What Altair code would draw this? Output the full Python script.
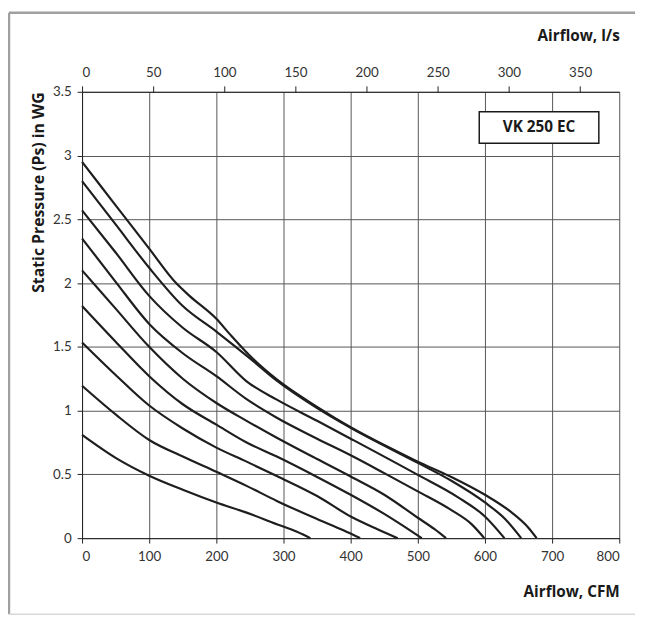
import altair as alt
import pandas as pd

# ---- data (CFM vs static pressure, in WG) ----
curve_names = ["c1", "c2", "c3", "c4", "c5", "c6", "c7", "c8", "c9"]
c1_cfm = [0, 50, 100, 140, 160, 200, 220, 250, 290, 350, 400, 450, 500, 550, 600, 640, 665, 677]
c1_ps = [2.95, 2.61, 2.27, 2.00, 1.90, 1.72, 1.60, 1.43, 1.245, 1.03, 0.87, 0.73, 0.60, 0.48, 0.34, 0.20, 0.08, 0.0]
c2_cfm = [0, 50, 100, 150, 200, 250, 290, 350, 400, 500, 550, 600, 630, 654]
c2_ps = [2.80, 2.46, 2.12, 1.82, 1.62, 1.41, 1.235, 1.02, 0.865, 0.59, 0.45, 0.28, 0.15, 0.0]
c3_cfm = [0, 50, 100, 150, 200, 245, 290, 350, 400, 500, 560, 600, 629]
c3_ps = [2.57, 2.24, 1.90, 1.65, 1.46, 1.23, 1.086, 0.92, 0.78, 0.496, 0.32, 0.17, 0.0]
c4_cfm = [0, 50, 100, 150, 200, 245, 290, 350, 400, 450, 500, 550, 580, 599]
c4_ps = [2.35, 2.01, 1.68, 1.45, 1.27, 1.09, 0.944, 0.78, 0.65, 0.51, 0.367, 0.22, 0.11, 0.0]
c5_cfm = [0, 50, 100, 150, 200, 245, 290, 350, 400, 450, 500, 525, 542]
c5_ps = [2.10, 1.80, 1.50, 1.25, 1.06, 0.92, 0.787, 0.62, 0.483, 0.34, 0.16, 0.07, 0.0]
c6_cfm = [0, 50, 100, 150, 200, 245, 290, 350, 400, 450, 480, 506]
c6_ps = [1.82, 1.54, 1.27, 1.05, 0.89, 0.75, 0.64, 0.48, 0.34, 0.19, 0.09, 0.0]
c7_cfm = [0, 50, 100, 150, 200, 245, 290, 350, 400, 440, 470]
c7_ps = [1.535, 1.28, 1.04, 0.86, 0.71, 0.60, 0.487, 0.33, 0.17, 0.07, 0.0]
c8_cfm = [0, 50, 100, 150, 200, 245, 290, 350, 390, 414]
c8_ps = [1.195, 0.97, 0.77, 0.64, 0.52, 0.41, 0.292, 0.15, 0.06, 0.0]
c9_cfm = [0, 50, 100, 150, 200, 245, 290, 320, 340]
c9_ps = [0.81, 0.63, 0.49, 0.38, 0.28, 0.20, 0.109, 0.05, 0.0]

cfm_ticks = [0, 100, 200, 300, 400, 500, 600, 700, 800]
ls_ticks = [0, 50, 100, 150, 200, 250, 300, 350]
ps_ticks = [0, 0.5, 1, 1.5, 2, 2.5, 3, 3.5]
CFM_PER_LS = 2.11888

model_label = ["VK 250 EC"]
box_cfm = [591.5, 769.6]
box_ps = [3.097, 3.343]

all_cfm = [c1_cfm, c2_cfm, c3_cfm, c4_cfm, c5_cfm, c6_cfm, c7_cfm, c8_cfm, c9_cfm]
all_ps = [c1_ps, c2_ps, c3_ps, c4_ps, c5_ps, c6_ps, c7_ps, c8_ps, c9_ps]
rows = []
for name, xs, ys in zip(curve_names, all_cfm, all_ps):
    for i, (x, y) in enumerate(zip(xs, ys)):
        rows.append({"curve": name, "order": i, "cfm": x, "ps": y})
df = pd.DataFrame(rows)

box_df = pd.DataFrame({"cfm": [box_cfm[0]], "cfm2": [box_cfm[1]], "ps": [box_ps[0]], "ps2": [box_ps[1]],
                       "label": model_label, "cfmc": [(box_cfm[0] + box_cfm[1]) / 2],
                       "psc": [(box_ps[0] + box_ps[1]) / 2]})

FONT = "Lato"
TFONT = "Open Sans"
xscale = alt.Scale(domain=[0, 800], nice=False, zero=False)
yscale = alt.Scale(domain=[0, 3.5], nice=False)

x_axis = alt.Axis(values=cfm_ticks, title="Airflow, CFM", grid=True, gridColor="#555", gridWidth=1,
                  domainColor="#222", tickColor="#222", tickSize=5, labelPadding=7,
                  labelFont=FONT, labelFontSize=13.5, labelColor="#333",
                  titleFont=TFONT, titleFontSize=15.5, titleFontWeight="bold", titleColor="#1a1a1a",
                  titleX=544, titleY=54, titleAlign="right", titleBaseline="middle")
y_axis = alt.Axis(values=ps_ticks, title="Static Pressure (Ps) in  WG", grid=True, gridColor="#555",
                  gridWidth=1, domainColor="#222", tickColor="#222", tickSize=5, labelPadding=6,
                  labelExpr="datum.value + ''",
                  labelFont=FONT, labelFontSize=13.5, labelColor="#333",
                  titleFont=TFONT, titleFontSize=16, titleFontWeight="bold", titleColor="#1a1a1a",
                  titleX=-44, titleY=0, titleAngle=270, titleAlign="right", titleBaseline="middle")

X = lambda f: alt.X(f, scale=xscale, axis=x_axis)
Y = lambda f: alt.Y(f, scale=yscale, axis=y_axis)

lines = alt.Chart(df).mark_line(color="#1e1e1e", strokeWidth=2.2, interpolate="monotone").encode(
    x=X("cfm:Q"), y=Y("ps:Q"), detail="curve:N", order="order:Q",
)

box = alt.Chart(box_df).mark_rect(fill="white", stroke="#1a1a1a", strokeWidth=1.5).encode(
    x=X("cfm:Q"), x2="cfm2:Q", y=Y("ps:Q"), y2="ps2:Q")
box_text = alt.Chart(box_df).mark_text(font=TFONT, fontSize=15.5, fontWeight="bold", color="#1a1a1a").encode(
    x=X("cfmc:Q"), y=Y("psc:Q"), text="label:N")

frame_left = alt.Chart(box_df).mark_rule(color="#a0a0a0", strokeWidth=2.5).encode(
    x=alt.value(-74), y=alt.value(-80), y2=alt.value(529))
frame_top = alt.Chart(box_df).mark_rule(color="#a0a0a0", strokeWidth=2.5).encode(
    x=alt.value(-74), x2=alt.value(560), y=alt.value(-80))
frame_bottom = alt.Chart(box_df).mark_rule(color="#d8d8d8", strokeWidth=1.5).encode(
    x=alt.value(-74), x2=alt.value(560), y=alt.value(529))

main = alt.layer(lines, box, box_text, frame_left, frame_top, frame_bottom)

top_axis = alt.Chart(df).transform_calculate(ls=f"datum.cfm / {CFM_PER_LS}").mark_line(opacity=0).encode(
    x=alt.X("ls:Q", scale=alt.Scale(domain=[0, 800 / CFM_PER_LS], nice=False, zero=False),
            axis=alt.Axis(orient="top", values=ls_ticks, title="Airflow, l/s", grid=False,
                          domainColor="#222", tickColor="#222", tickSize=6, labelPadding=6,
                          labelFont=FONT, labelFontSize=13.5, labelColor="#333",
                          titleFont=TFONT, titleFontSize=15.5, titleFontWeight="bold", titleColor="#1a1a1a",
                          titleX=544, titleY=-57, titleAlign="right", titleBaseline="middle")),
    y=Y("ps:Q"),
    detail="curve:N",
)

chart = alt.layer(main, top_axis).resolve_scale(
    x="independent"
).properties(
    width=544, height=452,
    autosize=alt.AutoSizeParams(type="none"),
    padding={"left": 75, "top": 81, "right": 20, "bottom": 78},
    background="white",
).configure_view(strokeWidth=0)

chart.save("out.html", embed_options={"renderer": "svg", "actions": False})
